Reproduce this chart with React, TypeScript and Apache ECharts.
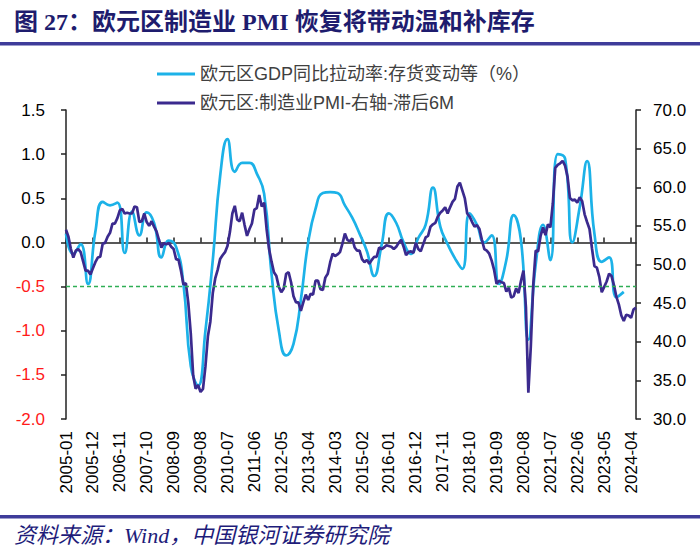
import React, { useEffect, useRef } from "react";
import * as echarts from "echarts";

// Monthly categories 2005-01 .. 2024-06
const months: string[] = [];
for (let y = 2005; y <= 2024; y++) {
  for (let m = 1; m <= 12; m++) {
    if (y === 2024 && m > 6) break;
    months.push(`${y}-${String(m).padStart(2, "0")}`);
  }
}

const gdpName = "欧元区GDP同比拉动率:存货变动等（%）";
const pmiName = "欧元区:制造业PMI-右轴-滞后6M";

// Euro area inventory contribution to GDP yoy (quarterly, every 3rd month from 2005-01)
const gdpValues: number[] = [
  0.1, -0.13, -0.02, -0.47, 0.12, 0.46, 0.42, 0.45, -0.12, 0.35,
  0.08, 0.34, 0.22, -0.17, 0.02, -0.05, -0.47, -1.4, -1.62, -1.0,
  -0.2, 0.75, 1.17, 0.8, 0.9, 0.9, 0.78, 0.55, -0.35, -1.0,
  -1.28, -1.15, -0.65, 0.0, 0.38, 0.56, 0.57, 0.56, 0.42, 0.28,
  0.1, -0.1, -0.38, -0.03, 0.33, 0.22, 0.0, -0.13, 0.05, 0.2,
  0.62, 0.18, -0.02, -0.18, -0.3, 0.33, 0.2, 0.0, 0.08, -0.47,
  -0.2, 0.31, 0.02, -1.1, -0.25, 0.2, -0.2, 1.0, 0.95, 0.0,
  0.4, 0.92, 0.1, -0.22, -0.17, -0.62, -0.56,
];

// Euro area manufacturing PMI, lagged 6 months (monthly, 2005-01 .. 2024-06)
const pmiValues: number[] = [
  54.5, 53.6, 52.0, 50.9, 51.8, 52.0, 51.6, 50.4, 49.2, 49.2, 48.7, 49.5,
  50.3, 50.9, 51.0, 52.7, 52.8, 53.6, 54.1, 55.3, 55.3, 56.0, 57.0, 57.2,
  56.6, 56.7, 56.6, 56.6, 57.5, 57.4, 55.5, 55.6, 56.6, 55.5, 55.0, 55.6,
  54.9, 54.3, 53.2, 52.2, 52.8, 52.6, 52.8, 52.3, 52.0, 50.7, 50.6, 49.2,
  47.4, 47.6, 45.0, 41.1, 35.6, 33.9, 34.4, 33.5, 33.9, 36.8, 40.7, 42.6,
  46.3, 48.2, 49.3, 50.7, 51.2, 51.6, 52.4, 54.2, 56.6, 57.6, 55.8, 55.6,
  56.7, 55.1, 53.7, 54.6, 55.3, 57.1, 57.3, 59.0, 57.5, 58.0, 54.6, 52.0,
  50.4, 49.0, 48.5, 47.1, 46.4, 46.9, 48.8, 49.0, 47.7, 45.9, 45.1, 45.1,
  44.0, 45.1, 46.1, 45.4, 46.2, 46.1, 47.9, 47.9, 46.8, 46.7, 48.3, 48.8,
  50.3, 51.4, 51.1, 51.3, 51.6, 52.7, 54.0, 53.2, 53.0, 53.4, 52.2, 51.8,
  51.8, 50.7, 50.3, 50.6, 50.1, 50.6, 51.0, 51.0, 52.2, 52.0, 52.2, 52.5,
  52.4, 52.3, 52.0, 52.3, 52.8, 53.2, 52.3, 51.2, 51.6, 51.7, 51.5, 52.8,
  52.0, 51.7, 52.6, 53.5, 53.7, 54.9, 55.2, 55.4, 56.2, 56.7, 57.0, 57.4,
  56.6, 57.4, 58.1, 58.5, 60.1, 60.6, 59.6, 58.6, 56.6, 56.2, 55.5, 54.9,
  55.1, 54.6, 53.2, 52.0, 51.8, 51.4, 50.5, 49.3, 47.5, 47.9, 47.7, 47.6,
  46.5, 47.0, 45.7, 45.9, 46.9, 46.3, 47.9, 49.2, 44.5, 33.4, 39.4, 47.4,
  51.8, 51.7, 53.7, 54.8, 53.8, 55.2, 54.8, 57.9, 62.5, 62.9, 63.1, 63.4,
  62.8, 61.4, 58.6, 58.3, 58.4, 58.0, 58.7, 58.2, 56.5, 55.5, 54.6, 52.1,
  49.8, 49.6, 48.4, 46.4, 47.1, 47.8, 48.8, 48.5, 47.3, 45.8, 44.8, 43.4,
  42.7, 43.5, 43.4, 43.1, 44.2, 44.4,
];

const thresholdLine = -0.5;

const SANS = "'Liberation Sans', Arial, 'Noto Sans CJK SC', sans-serif";
const TITLE = "图 27：欧元区制造业 PMI 恢复将带动温和补库存";
const SOURCE = "资料来源：Wind，中国银河证券研究院";

export default function App() {
  const ref = useRef<HTMLDivElement>(null);

  useEffect(() => {
    if (!ref.current) return;
    const chart = echarts.init(ref.current, undefined, { renderer: "svg" });
    const axisColor = "#222";
    chart.setOption({
      animation: false,
      backgroundColor: "#ffffff",
      grid: { left: 66, right: 64, top: 110, bottom: 136, containLabel: false },
      legend: {
        orient: "vertical",
        left: 152,
        top: 60,
        icon: "rect",
        itemWidth: 38,
        itemHeight: 3,
        itemGap: 11,
        textStyle: { fontSize: 18, color: "#404040", fontFamily: SANS, lineHeight: 18 },
        data: [gdpName, pmiName],
      },
      xAxis: [
        {
          type: "category",
          data: months,
          boundaryGap: false,
          axisLine: { show: false, onZero: false },
          axisTick: { show: false },
          splitLine: { show: false },
          axisLabel: {
            interval: 10,
            rotate: 90,
            margin: 12,
            fontSize: 17,
            color: "#000",
            fontFamily: SANS,
          },
        },
        {
          type: "category",
          data: months,
          boundaryGap: false,
          position: "bottom",
          axisLine: {
            show: true,
            onZero: true,
            onZeroAxisIndex: 0,
            lineStyle: { color: axisColor, width: 1.5 },
          },
          axisTick: {
            show: true,
            inside: true,
            interval: 10,
            length: 5,
            lineStyle: { color: axisColor, width: 1.5 },
          },
          axisLabel: { show: false },
          splitLine: { show: false },
        },
      ],
      yAxis: [
        {
          type: "value",
          min: -2,
          max: 1.5,
          interval: 0.5,
          axisLine: { show: true, onZero: false, lineStyle: { color: axisColor, width: 1.5 } },
          axisTick: { show: true, length: 5, lineStyle: { color: axisColor, width: 1.5 } },
          splitLine: { show: false },
          axisLabel: {
            formatter: (v: number) => Number(v).toFixed(1),
            color: (v: any) => (Number(v) < 0 ? "#ff1a1a" : "#000"),
            fontSize: 17,
            margin: 21,
            fontFamily: SANS,
          },
        },
        {
          type: "value",
          position: "right",
          min: 30,
          max: 70,
          interval: 5,
          axisLine: { show: true, onZero: false, lineStyle: { color: axisColor, width: 1.5 } },
          axisTick: { show: true, length: 5, lineStyle: { color: axisColor, width: 1.5 } },
          splitLine: { show: false },
          axisLabel: {
            formatter: (v: number) => Number(v).toFixed(1),
            color: "#000",
            fontSize: 17,
            margin: 17,
            fontFamily: SANS,
          },
        },
      ],
      series: [
        {
          name: gdpName,
          type: "line",
          xAxisIndex: 0,
          yAxisIndex: 0,
          data: gdpValues.map((v, k) => [months[k * 3], v]),
          smooth: 0.5,
          symbol: "none",
          lineStyle: { color: "#1CB2E8", width: 2.7 },
          itemStyle: { color: "#1CB2E8" },
          z: 2,
          markLine: {
            silent: true,
            symbol: "none",
            label: { show: false },
            lineStyle: { color: "#2FAE55", type: [4, 3], width: 1.3 },
            data: [{ yAxis: thresholdLine }],
          },
        },
        {
          name: pmiName,
          type: "line",
          xAxisIndex: 0,
          yAxisIndex: 1,
          data: pmiValues,
          symbol: "none",
          lineStyle: { color: "#3B2A8E", width: 2.7 },
          itemStyle: { color: "#3B2A8E" },
          z: 3,
        },
      ],
      graphic: [
        {
          type: "text",
          x: 14,
          y: 22,
          style: {
            text: TITLE,
            fill: "#1E1C6E",
            font: "bold 24px 'Liberation Serif', 'Noto Sans CJK SC', serif",
            verticalAlign: "middle",
            align: "left",
          },
        },
        {
          type: "rect",
          shape: { x: 0, y: 42, width: 700, height: 3.5 },
          style: { fill: "#3E3C9A" },
        },
        {
          type: "rect",
          shape: { x: 0, y: 515, width: 700, height: 3.5 },
          style: { fill: "#3E3C9A" },
        },
        {
          type: "text",
          x: 14,
          y: 535,
          style: {
            text: SOURCE,
            fill: "#1E1C7A",
            font: "italic 22px 'Liberation Serif', 'Noto Sans CJK SC', serif",
            verticalAlign: "middle",
            align: "left",
          },
        },
      ],
    });
    return () => chart.dispose();
  }, []);

  return (
    <div
      ref={ref}
      style={{ position: "fixed", left: 0, top: 0, width: 700, height: 555, background: "#fff" }}
    />
  );
}
